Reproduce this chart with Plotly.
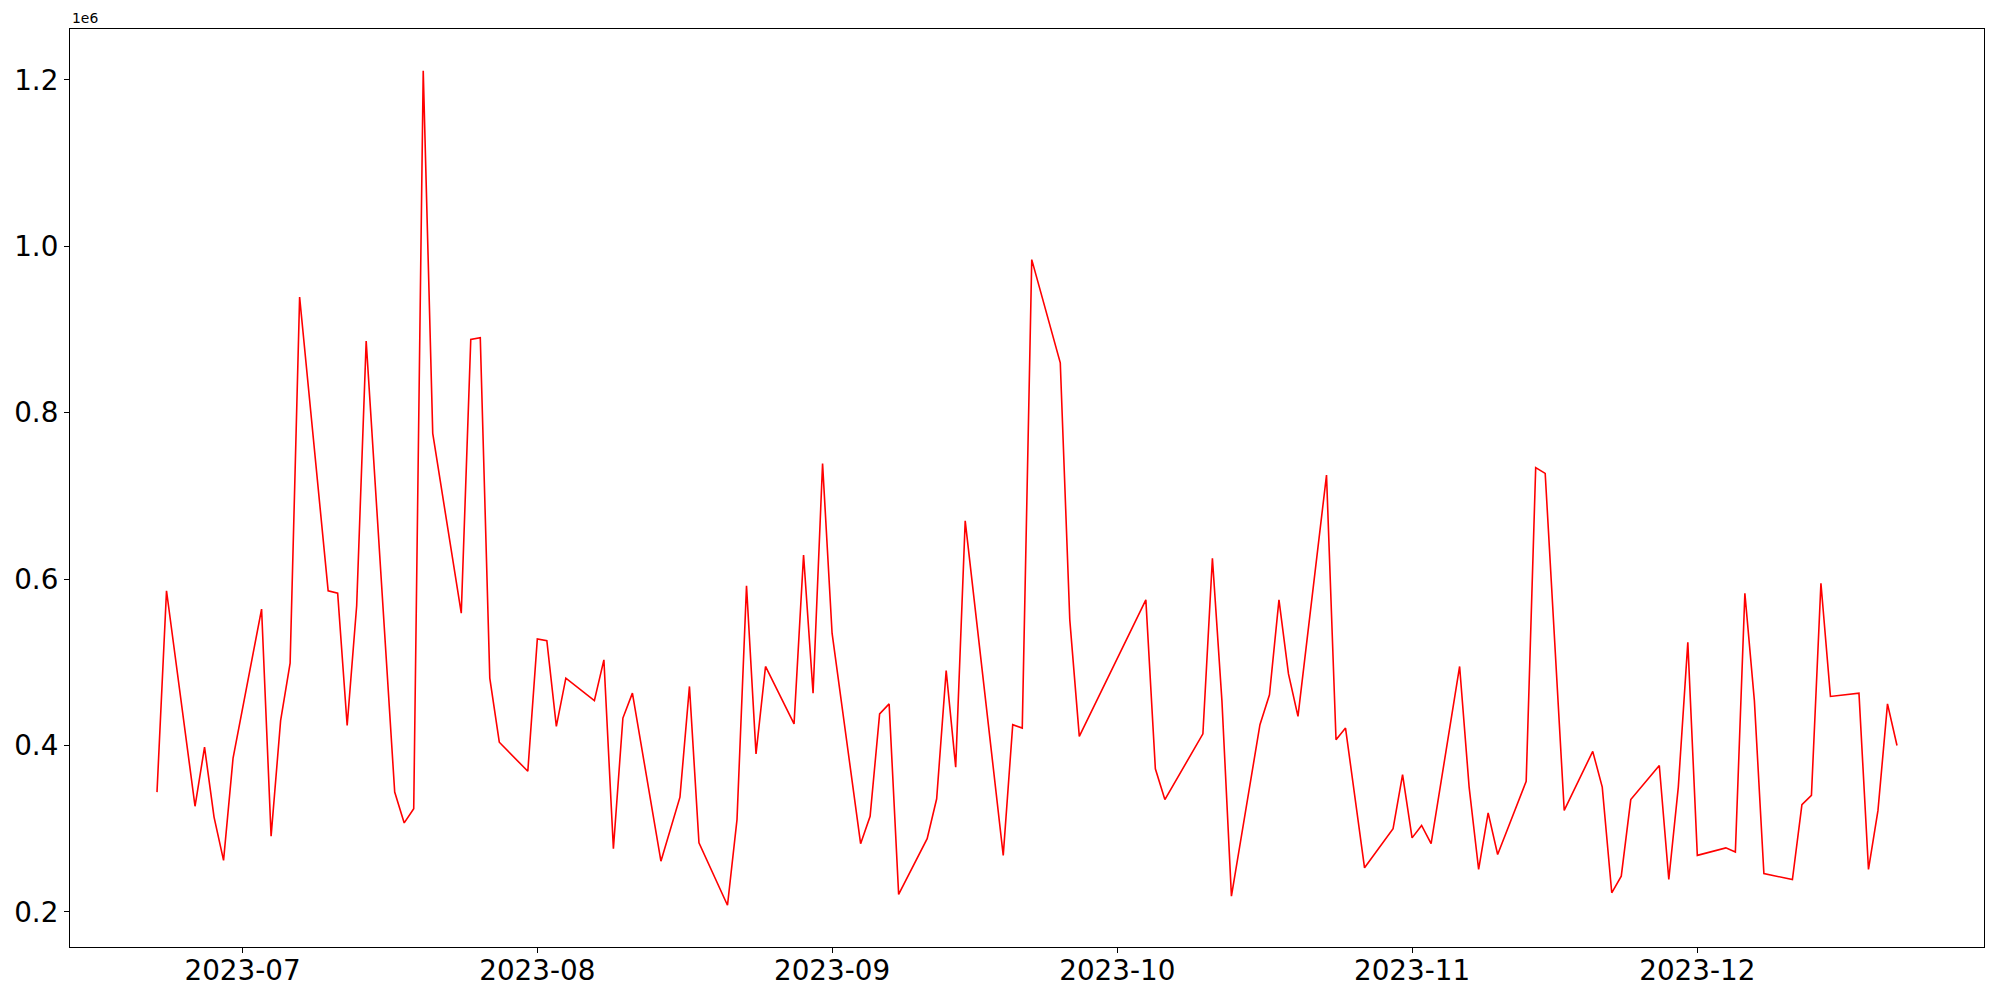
import plotly.graph_objects as go

dates = [
    "2023-06-22", "2023-06-23", "2023-06-26", "2023-06-27", "2023-06-28", "2023-06-29", "2023-06-30",
    "2023-07-03", "2023-07-04", "2023-07-05", "2023-07-06", "2023-07-07",
    "2023-07-10", "2023-07-11", "2023-07-12", "2023-07-13", "2023-07-14",
    "2023-07-17", "2023-07-18", "2023-07-19", "2023-07-20", "2023-07-21",
    "2023-07-24", "2023-07-25", "2023-07-26", "2023-07-27", "2023-07-28",
    "2023-07-31", "2023-08-01", "2023-08-02", "2023-08-03", "2023-08-04",
    "2023-08-07", "2023-08-08", "2023-08-09", "2023-08-10", "2023-08-11",
    "2023-08-14", "2023-08-16", "2023-08-17", "2023-08-18",
    "2023-08-21", "2023-08-22", "2023-08-23", "2023-08-24", "2023-08-25",
    "2023-08-28", "2023-08-29", "2023-08-30", "2023-08-31", "2023-09-01",
    "2023-09-04", "2023-09-05", "2023-09-06", "2023-09-07", "2023-09-08",
    "2023-09-11", "2023-09-12", "2023-09-13", "2023-09-14", "2023-09-15",
    "2023-09-19", "2023-09-20", "2023-09-21", "2023-09-22",
    "2023-09-25", "2023-09-26", "2023-09-27",
    "2023-10-04", "2023-10-05", "2023-10-06",
    "2023-10-10", "2023-10-11", "2023-10-12", "2023-10-13",
    "2023-10-16", "2023-10-17", "2023-10-18", "2023-10-19", "2023-10-20",
    "2023-10-23", "2023-10-24", "2023-10-25", "2023-10-27",
    "2023-10-30", "2023-10-31", "2023-11-01", "2023-11-02", "2023-11-03",
    "2023-11-06", "2023-11-07", "2023-11-08", "2023-11-09", "2023-11-10",
    "2023-11-13", "2023-11-14", "2023-11-15", "2023-11-17",
    "2023-11-20", "2023-11-21", "2023-11-22", "2023-11-23", "2023-11-24",
    "2023-11-27", "2023-11-28", "2023-11-29", "2023-11-30", "2023-12-01",
    "2023-12-04", "2023-12-05", "2023-12-06", "2023-12-07", "2023-12-08",
    "2023-12-11", "2023-12-12", "2023-12-13", "2023-12-14", "2023-12-15",
    "2023-12-18", "2023-12-19", "2023-12-20", "2023-12-21", "2023-12-22",
]

values = [
    344000, 586000, 327000, 398000, 314000, 262000, 385000,
    564000, 291000, 430000, 499000, 939000,
    586000, 583000, 424000, 568000, 886000,
    344000, 307000, 324000, 1211000, 775000,
    559000, 888000, 890000, 481000, 404000,
    369000, 528000, 526000, 423000, 481000,
    454000, 503000, 276000, 433000, 463000,
    261000, 338000, 471000, 283000,
    208000, 311000, 592000, 390000, 495000,
    426000, 629000, 463000, 739000, 535000,
    282000, 315000, 438000, 450000, 221000,
    288000, 336000, 490000, 374000, 670000,
    268000, 425000, 421000, 984000,
    860000, 551000, 411000,
    575000, 372000, 335000,
    414000, 625000, 454000, 219000,
    425000, 461000, 575000, 486000, 435000,
    725000, 407000, 421000, 253000,
    300000, 365000, 289000, 304000, 282000,
    495000, 350000, 251000, 319000, 269000,
    357000, 734000, 727000, 322000,
    393000, 350000, 223000, 243000, 335000,
    376000, 239000, 350000, 524000, 268000,
    277000, 272000, 583000, 454000, 246000,
    239000, 329000, 340000, 595000, 459000,
    463000, 251000, 322000, 450000, 400000,
]

y_tick_vals = [200000, 400000, 600000, 800000, 1000000, 1200000]
y_tick_text = ["0.2", "0.4", "0.6", "0.8", "1.0", "1.2"]

fig = go.Figure()
fig.add_trace(go.Scatter(
    x=dates, y=values, mode="lines",
    line=dict(color="red", width=1.6),
    showlegend=False,
))

font_family = "DejaVu Sans"
fig.update_layout(
    width=1984, height=984, autosize=False,
    margin=dict(l=62, r=8, t=21, b=45),
    paper_bgcolor="white", plot_bgcolor="white",
    font=dict(family=font_family, color="black"),
    xaxis=dict(
        type="date",
        range=["2023-06-12 20:24", "2023-12-31 03:36"],
        tick0="2023-07-01", dtick="M1", tickformat="%Y-%m",
        ticks="outside", ticklen=5, tickwidth=1.1, tickcolor="black",
        showline=True, linecolor="black", linewidth=1.1, mirror=True,
        showgrid=False, zeroline=False, automargin=False,
        ticklabelstandoff=-6,
        tickfont=dict(size=27.8, family=font_family, color="black"),
    ),
    yaxis=dict(
        range=[157850, 1261150],
        tickvals=y_tick_vals, ticktext=y_tick_text,
        ticks="outside", ticklen=5, tickwidth=1.1, tickcolor="black",
        showline=True, linecolor="black", linewidth=1.1, mirror=True,
        showgrid=False, zeroline=False, automargin=False,
        tickfont=dict(size=27.8, family=font_family, color="black"),
    ),
    annotations=[dict(
        text="1e6", xref="paper", yref="paper", x=0, y=1,
        xanchor="left", yanchor="bottom", showarrow=False,
        font=dict(size=13.9, family=font_family, color="black"),
        yshift=1,
    )],
)

fig.write_html("out.html")
